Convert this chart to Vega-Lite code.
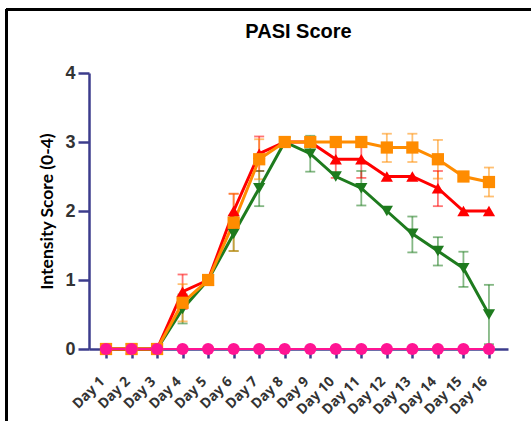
{
  "$schema": "https://vega.github.io/schema/vega-lite/v6.json",
  "width": 419,
  "height": 276,
  "autosize": {"type": "none"},
  "padding": {"left": 89, "top": 73, "right": 23, "bottom": 72},
  "background": "white",
  "config": {"view": {"stroke": null}},
  "title": {
    "text": "PASI Score",
    "font": "Liberation Sans",
    "fontSize": 20,
    "fontWeight": "bold",
    "color": "#000000",
    "anchor": "middle",
    "frame": "group",
    "baseline": "alphabetic",
    "offset": -50
  },
  "data": {
    "values": [
      {"group": "G", "day": 1, "mean": 0},
      {"group": "G", "day": 2, "mean": 0},
      {"group": "G", "day": 3, "mean": 0},
      {"group": "G", "day": 4, "mean": 0.58, "lo": 0.37, "hi": 0.79},
      {"group": "G", "day": 5, "mean": 1.0},
      {"group": "G", "day": 6, "mean": 1.67, "lo": 1.42, "hi": 1.92},
      {"group": "G", "day": 7, "mean": 2.33, "lo": 2.07, "hi": 2.58},
      {"group": "G", "day": 8, "mean": 3.0},
      {"group": "G", "day": 9, "mean": 2.83, "lo": 2.57, "hi": 3.09},
      {"group": "G", "day": 10, "mean": 2.5},
      {"group": "G", "day": 11, "mean": 2.33, "lo": 2.08, "hi": 2.58},
      {"group": "G", "day": 12, "mean": 2.0},
      {"group": "G", "day": 13, "mean": 1.67, "lo": 1.4, "hi": 1.92},
      {"group": "G", "day": 14, "mean": 1.42, "lo": 1.21, "hi": 1.62},
      {"group": "G", "day": 15, "mean": 1.17, "lo": 0.9, "hi": 1.41},
      {"group": "G", "day": 16, "mean": 0.5, "lo": 0.07, "hi": 0.93},
      {"group": "R", "day": 1, "mean": 0},
      {"group": "R", "day": 2, "mean": 0},
      {"group": "R", "day": 3, "mean": 0},
      {"group": "R", "day": 4, "mean": 0.83, "lo": 0.58, "hi": 1.08},
      {"group": "R", "day": 5, "mean": 1.0},
      {"group": "R", "day": 6, "mean": 2.0, "lo": 1.75, "hi": 2.25},
      {"group": "R", "day": 7, "mean": 2.83, "lo": 2.58, "hi": 3.08},
      {"group": "R", "day": 8, "mean": 3.0},
      {"group": "R", "day": 9, "mean": 3.0},
      {"group": "R", "day": 10, "mean": 2.75, "lo": 2.48, "hi": 3.02},
      {"group": "R", "day": 11, "mean": 2.75, "lo": 2.48, "hi": 3.02},
      {"group": "R", "day": 12, "mean": 2.5},
      {"group": "R", "day": 13, "mean": 2.5},
      {"group": "R", "day": 14, "mean": 2.33, "lo": 2.07, "hi": 2.58},
      {"group": "R", "day": 15, "mean": 2.0},
      {"group": "R", "day": 16, "mean": 2.0},
      {"group": "O", "day": 1, "mean": 0},
      {"group": "O", "day": 2, "mean": 0},
      {"group": "O", "day": 3, "mean": 0},
      {"group": "O", "day": 4, "mean": 0.67, "lo": 0.4, "hi": 0.94},
      {"group": "O", "day": 5, "mean": 1.0},
      {"group": "O", "day": 6, "mean": 1.83, "lo": 1.42, "hi": 2.25},
      {"group": "O", "day": 7, "mean": 2.75, "lo": 2.46, "hi": 3.04},
      {"group": "O", "day": 8, "mean": 3.0},
      {"group": "O", "day": 9, "mean": 3.0},
      {"group": "O", "day": 10, "mean": 3.0},
      {"group": "O", "day": 11, "mean": 3.0},
      {"group": "O", "day": 12, "mean": 2.92, "lo": 2.71, "hi": 3.12},
      {"group": "O", "day": 13, "mean": 2.92, "lo": 2.71, "hi": 3.12},
      {"group": "O", "day": 14, "mean": 2.75, "lo": 2.47, "hi": 3.03},
      {"group": "O", "day": 15, "mean": 2.5},
      {"group": "O", "day": 16, "mean": 2.42, "lo": 2.21, "hi": 2.63},
      {"group": "P", "day": 1, "mean": 0},
      {"group": "P", "day": 2, "mean": 0},
      {"group": "P", "day": 3, "mean": 0},
      {"group": "P", "day": 4, "mean": 0},
      {"group": "P", "day": 5, "mean": 0},
      {"group": "P", "day": 6, "mean": 0},
      {"group": "P", "day": 7, "mean": 0},
      {"group": "P", "day": 8, "mean": 0},
      {"group": "P", "day": 9, "mean": 0},
      {"group": "P", "day": 10, "mean": 0},
      {"group": "P", "day": 11, "mean": 0},
      {"group": "P", "day": 12, "mean": 0},
      {"group": "P", "day": 13, "mean": 0},
      {"group": "P", "day": 14, "mean": 0},
      {"group": "P", "day": 15, "mean": 0},
      {"group": "P", "day": 16, "mean": 0}
    ]
  },
  "encoding": {
    "x": {
      "field": "day",
      "type": "quantitative",
      "scale": {"domain": [0.334, 16.746], "nice": false, "zero": false},
      "axis": {
        "values": [1, 2, 3, 4, 5, 6, 7, 8, 9, 10, 11, 12, 13, 14, 15, 16],
        "labelExpr": "'Day ' + datum.value",
        "labelOverlap": false,
        "labelBound": false,
        "labelFlush": false,
        "title": null,
        "grid": false,
        "domainColor": "#3c3c8c",
        "domainWidth": 2.5,
        "tickColor": "#3c3c8c",
        "tickWidth": 2.5,
        "tickSize": 9,
        "labelAngle": -45,
        "labelAlign": "right",
        "labelBaseline": "middle",
        "labelPadding": 21,
        "labelOffset": -4,
        "labelFont": "Open Sans",
        "labelFontWeight": "bold",
        "labelFontSize": 14,
        "labelColor": "#333333"
      }
    },
    "y": {
      "field": "mean",
      "type": "quantitative",
      "scale": {"domain": [0, 4], "nice": false},
      "axis": {
        "values": [0, 1, 2, 3, 4],
        "grid": false,
        "domainColor": "#3c3c8c",
        "domainWidth": 2.5,
        "tickColor": "#3c3c8c",
        "tickWidth": 2.5,
        "tickSize": 11,
        "labelPadding": 3,
        "labelFont": "Liberation Sans",
        "labelFontWeight": "bold",
        "labelFontSize": 18,
        "labelColor": "#333333",
        "title": "Intensity Score (0-4)",
        "titleFont": "Lato",
        "titleFontSize": 17.5,
        "titleFontWeight": "bold",
        "titleColor": "#000000",
        "titlePadding": 8
      }
    },
    "color": {
      "field": "group",
      "type": "nominal",
      "scale": {"domain": ["G", "R", "O", "P"], "range": ["#1e7b1e", "#ff0000", "#ff8c00", "#ff1493"]},
      "legend": null
    }
  },
  "layer": [
    {
      "transform": [{"filter": "isValid(datum.lo)"}],
      "mark": {"type": "rule", "strokeWidth": 1.8, "opacity": 0.55},
      "encoding": {"y": {"field": "lo", "type": "quantitative"}, "y2": {"field": "hi"}}
    },
    {
      "transform": [{"filter": "isValid(datum.lo)"}],
      "mark": {"type": "tick", "orient": "horizontal", "size": 10, "thickness": 1.8, "opacity": 0.55},
      "encoding": {"y": {"field": "lo", "type": "quantitative"}}
    },
    {
      "transform": [{"filter": "isValid(datum.hi)"}],
      "mark": {"type": "tick", "orient": "horizontal", "size": 10, "thickness": 1.8, "opacity": 0.55},
      "encoding": {"y": {"field": "hi", "type": "quantitative"}}
    },
    {
      "transform": [{"filter": "datum.group !== 'P'"}],
      "mark": {"type": "line", "strokeWidth": 3},
      "encoding": {"detail": {"field": "group"}}
    },
    {
      "transform": [{"filter": "datum.group === 'P'"}],
      "mark": {"type": "line", "strokeWidth": 2}
    },
    {
      "mark": {"type": "point", "filled": true, "opacity": 1},
      "encoding": {
        "shape": {
          "field": "group",
          "type": "nominal",
          "scale": {"domain": ["G", "R", "O", "P"], "range": ["triangle-down", "triangle-up", "square", "circle"]},
          "legend": null
        },
        "size": {
          "field": "group",
          "type": "nominal",
          "scale": {"domain": ["G", "R", "O", "P"], "range": [150, 150, 121, 95]},
          "legend": null
        }
      }
    },
    {
      "mark": {"type": "rule", "color": "#000000", "strokeWidth": 2.4},
      "encoding": {"x": {"datum": -2.905}, "y": {"datum": -2}, "y2": {"datum": 4.92}, "color": {"value": "#000000"}}
    },
    {
      "mark": {"type": "rule", "color": "#000000", "strokeWidth": 2.4},
      "encoding": {"y": {"datum": 4.92}, "x": {"datum": -2.905}, "x2": {"datum": 20}, "color": {"value": "#000000"}}
    }
  ]
}
